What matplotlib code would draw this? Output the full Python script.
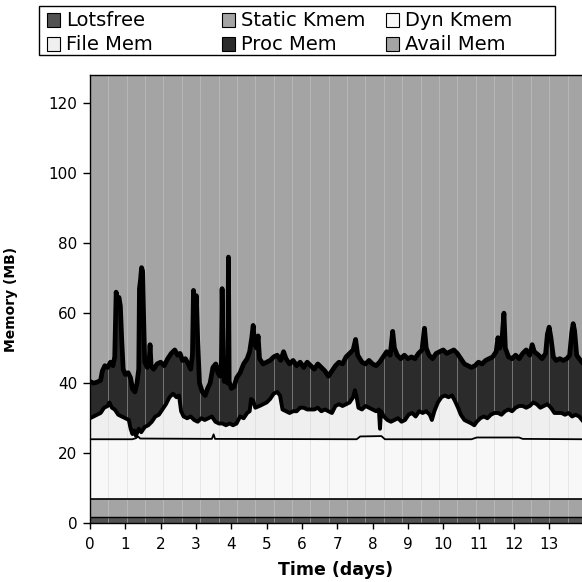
import numpy as np
import matplotlib
matplotlib.use("Agg")
import matplotlib.pyplot as plt
from matplotlib.patches import Rectangle

plt.rcParams['font.family'] = ['DejaVu Sans']

# cumulative tops of each layer (MB)
t_end = 13.93
lotsfree_top = [1.7, 1.7]
static_top = [6.9, 6.9]
t_const = [0.0, t_end]

t_dyn = [0.00, 1.20, 1.30, 1.36, 1.42, 3.45, 3.50, 3.54, 7.55, 7.65, 8.25, 8.35,
         10.80, 10.95, 12.15, 12.25, 13.93]
dyn_top = [24.0, 24.0, 24.3, 24.8, 24.2, 24.1, 25.4, 24.1, 24.0, 24.8, 24.9, 24.0,
           24.0, 24.5, 24.5, 24.1, 24.0]

t_file = [0.00, 0.10, 0.20, 0.30, 0.40, 0.50, 0.55, 0.62, 0.70, 0.80, 0.90, 1.00,
          1.10, 1.15, 1.20, 1.25, 1.30, 1.38, 1.45, 1.55, 1.65, 1.75, 1.85, 1.95,
          2.05, 2.15, 2.25, 2.35, 2.45, 2.52, 2.58, 2.65, 2.75, 2.85, 2.95, 3.05,
          3.15, 3.25, 3.35, 3.45, 3.55, 3.65, 3.75, 3.85, 3.95, 4.05, 4.15, 4.25,
          4.35, 4.45, 4.52, 4.56, 4.62, 4.68, 4.80, 4.90, 5.00, 5.10, 5.20, 5.30,
          5.38, 5.45, 5.55, 5.65, 5.75, 5.85, 5.95, 6.05, 6.15, 6.25, 6.35, 6.45,
          6.55, 6.65, 6.75, 6.85, 6.95, 7.05, 7.15, 7.25, 7.35, 7.45, 7.50, 7.55,
          7.60, 7.70, 7.80, 7.90, 8.00, 8.10, 8.18, 8.21, 8.24, 8.32, 8.42, 8.52,
          8.62, 8.72, 8.82, 8.92, 9.02, 9.12, 9.22, 9.32, 9.42, 9.52, 9.62, 9.68,
          9.75, 9.85, 9.95, 10.05, 10.15, 10.25, 10.33, 10.42, 10.50, 10.60, 10.70, 10.80,
          10.88, 10.95, 11.05, 11.15, 11.25, 11.35, 11.45, 11.55, 11.65, 11.75, 11.85, 11.95,
          12.05, 12.15, 12.25, 12.35, 12.45, 12.55, 12.65, 12.75, 12.85, 12.95, 13.05, 13.15,
          13.25, 13.35, 13.45, 13.55, 13.65, 13.75, 13.85, 13.93]
file_top = [30.0, 30.5, 31.0, 31.5, 33.0, 33.5, 34.5, 33.0, 32.5, 31.0, 30.5, 30.0,
            29.5, 27.0, 25.5, 26.5, 25.0, 27.0, 26.0, 27.5, 28.0, 29.0, 30.5, 31.0,
            32.5, 34.0, 36.0, 37.0, 36.0, 36.5, 32.0, 30.5, 30.0, 30.5, 29.5, 29.0,
            30.0, 29.5, 30.0, 30.5, 29.0, 28.5, 28.5, 28.0, 28.5, 28.0, 28.5, 30.5,
            30.0, 31.5, 32.0, 35.5, 35.0, 33.0, 33.5, 34.0, 34.5, 35.5, 37.0, 37.5,
            36.5, 32.5, 32.0, 31.5, 32.0, 32.0, 33.0, 33.0, 32.5, 32.5, 32.5, 33.0,
            32.0, 32.5, 32.0, 31.5, 33.5, 34.0, 33.5, 34.0, 34.5, 36.0, 38.0, 36.0,
            33.0, 32.5, 33.5, 33.0, 32.5, 32.0, 32.5, 27.0, 32.0, 30.5, 29.5, 29.0,
            29.5, 30.0, 29.0, 29.5, 31.0, 31.5, 30.5, 32.0, 31.5, 32.0, 31.0, 29.5,
            32.0, 34.5, 36.0, 36.5, 36.0, 36.5, 35.0, 33.0, 31.0, 29.5, 29.0, 28.5,
            28.0, 29.0, 30.0, 30.5, 30.0, 31.0, 31.5, 31.5, 31.0, 32.0, 32.5, 32.0,
            33.0, 33.5, 33.5, 33.0, 33.5, 34.5, 34.0, 33.0, 33.5, 34.0, 33.0, 31.5,
            31.5, 31.5, 31.0, 31.5, 30.5, 31.0, 30.5, 29.5]

t_proc = [0.00, 0.10, 0.20, 0.30, 0.35, 0.42, 0.50, 0.58, 0.65, 0.70, 0.74, 0.78,
          0.82, 0.86, 0.90, 0.94, 1.00, 1.08, 1.15, 1.20, 1.27, 1.33, 1.38, 1.40,
          1.43, 1.46, 1.49, 1.52, 1.55, 1.62, 1.67, 1.70, 1.73, 1.80, 1.90, 2.00,
          2.10, 2.20, 2.30, 2.40, 2.48, 2.55, 2.62, 2.70, 2.78, 2.85, 2.90, 2.93,
          2.97, 3.01, 3.05, 3.10, 3.18, 3.26, 3.33, 3.40, 3.48, 3.56, 3.62, 3.68,
          3.72, 3.74, 3.77, 3.80, 3.86, 3.90, 3.92, 3.94, 4.00, 4.08, 4.15, 4.25,
          4.35, 4.45, 4.52, 4.58, 4.62, 4.66, 4.72, 4.76, 4.80, 4.90, 5.00, 5.10,
          5.20, 5.30, 5.40, 5.48, 5.55, 5.65, 5.75, 5.85, 5.95, 6.05, 6.15, 6.25,
          6.35, 6.45, 6.55, 6.65, 6.75, 6.85, 6.95, 7.05, 7.15, 7.25, 7.35, 7.45,
          7.52, 7.58, 7.70, 7.80, 7.90, 8.00, 8.10, 8.20, 8.30, 8.40, 8.50, 8.57,
          8.62, 8.70, 8.80, 8.90, 9.00, 9.10, 9.20, 9.30, 9.40, 9.47, 9.52, 9.60,
          9.70, 9.80, 9.90, 10.00, 10.10, 10.20, 10.30, 10.40, 10.50, 10.60, 10.70, 10.80,
          10.90, 11.00, 11.10, 11.20, 11.30, 11.40, 11.50, 11.55, 11.60, 11.66, 11.72, 11.76,
          11.85, 11.95, 12.05, 12.15, 12.25, 12.35, 12.45, 12.52, 12.58, 12.70, 12.80, 12.90,
          12.95, 13.00, 13.05, 13.12, 13.20, 13.30, 13.40, 13.50, 13.58, 13.64, 13.68, 13.72,
          13.78, 13.85, 13.93]
proc_top = [40.5, 40.0, 40.3, 40.8, 43.5, 45.0, 44.5, 46.0, 45.0, 47.5, 66.0, 63.0,
            64.5, 62.0, 52.0, 44.0, 42.5, 43.0, 41.5, 38.5, 37.5, 40.0, 44.0, 67.0,
            69.5, 73.0, 72.0, 58.0, 46.0, 44.5, 45.5, 51.0, 45.0, 44.0, 45.5, 46.0,
            45.0, 47.0, 48.5, 49.5, 48.0, 48.5, 46.5, 47.0, 45.5, 44.0, 48.0, 66.5,
            60.0, 65.0, 52.0, 40.0, 37.5, 36.5, 38.5, 40.0, 44.5, 45.5, 43.0, 42.0,
            46.0, 67.0, 47.0, 40.5, 41.0, 40.0, 76.0, 40.5, 38.5, 39.0, 41.5, 43.0,
            45.5, 47.0, 49.0, 53.0, 56.5, 51.0, 50.0, 53.5, 47.0, 45.5, 46.0, 46.5,
            47.5, 48.0, 46.5, 49.0, 47.0, 45.5, 46.5, 45.0, 46.0, 44.5, 46.0, 45.0,
            44.0, 45.5, 44.5, 43.5, 42.0, 43.5, 45.0, 46.0, 45.5, 47.5, 48.5, 49.5,
            52.5, 48.0, 46.0, 45.5, 46.5, 45.5, 45.0, 46.0, 47.5, 49.0, 48.0, 54.8,
            50.0, 48.0, 47.0, 48.0, 47.0, 47.5, 47.0, 48.5, 49.5, 55.7, 50.0, 48.0,
            47.0, 48.5, 49.0, 49.5, 48.5, 49.0, 49.5, 48.5, 47.0, 45.5, 45.0, 44.5,
            45.0, 46.0, 45.5, 46.5, 47.0, 47.5, 49.0, 53.0, 50.0, 52.0, 60.0, 50.0,
            47.5, 47.0, 48.0, 47.0, 48.5, 49.5, 48.0, 51.0, 49.0, 48.0, 47.0, 48.5,
            54.0, 56.0, 53.0, 47.5, 46.5, 47.0, 46.5, 47.0, 48.0, 54.5, 57.0, 55.0,
            48.0, 47.0, 46.0]

total_mem = 128
labels = ["Lotsfree", "Static Kmem", "Dyn Kmem", "File Mem", "Proc Mem", "Avail Mem"]
colors = ["#525252", "#a4a4a4", "#f8f8f8", "#efefef", "#2b2b2b", "#a4a4a4"]

W = 582.0
fig = plt.figure(figsize=(5.82, 5.82), dpi=100)
ax = fig.add_axes([90 / W, 1 - 523.3 / W, 1 - 90 / W, (523.3 - 75) / W])

# paint cumulative layers from the top down
ax.fill_between(t_const, 0, [total_mem, total_mem], color=colors[5], lw=0, zorder=1)
ax.fill_between(t_proc, 0, proc_top, color=colors[4], lw=0, zorder=1)
ax.fill_between(t_file, 0, file_top, color=colors[3], lw=0, zorder=1)
ax.fill_between(t_dyn, 0, dyn_top, color=colors[2], lw=0, zorder=1)
ax.fill_between(t_const, 0, static_top, color=colors[1], lw=0, zorder=1)
ax.fill_between(t_const, 0, lotsfree_top, color=colors[0], lw=0, zorder=1)

for gx in np.arange(0.52, t_end, 0.52):
    ax.axvline(gx, color="#d0d0d0", alpha=0.45, lw=0.7, zorder=2)

ax.plot(t_proc, proc_top, color="black", lw=3.4, zorder=3)
ax.plot(t_file, file_top, color="black", lw=2.8, zorder=3)
ax.plot(t_dyn, dyn_top, color="black", lw=1.3, zorder=3)
ax.plot(t_const, static_top, color="black", lw=1.2, zorder=3)
ax.plot(t_const, lotsfree_top, color="black", lw=1.0, zorder=3)

ax.set_xlim(0, t_end)
ax.set_ylim(0, total_mem)
ax.set_xticks(range(0, 14))
ax.set_yticks(range(0, 121, 20))
ax.tick_params(axis="both", labelsize=11, width=1, color="black")
ax.tick_params(axis="y", length=5, pad=4)
ax.tick_params(axis="x", length=4, pad=6)
ax.spines["right"].set_visible(False)
for s in ["left", "top", "bottom"]:
    ax.spines[s].set_linewidth(1.0)
ax.set_xlabel("Time (days)", fontsize=12.5, fontweight="bold", labelpad=6)
ax.set_ylabel("Memory (MB)", fontsize=10, fontweight="bold")
ax.yaxis.set_label_coords(-72 / (W - 90), 0.5)

# legend box drawn in figure pixels (3 columns x 2 rows)
def fx(px):
    return px / W

def fy(py):
    return 1 - py / W

fig.add_artist(Rectangle((fx(39.3), fy(55)), fx(555) - fx(39.3), fy(5.7) - fy(55),
                         transform=fig.transFigure, facecolor="white",
                         edgecolor="black", lw=1.0))
col_x = [47, 222, 386]
row_y = [20, 44]
sq = 13
for i, (lab, c) in enumerate(zip(labels, colors)):
    r, k = divmod(i, 3)
    x0, yc = col_x[k], row_y[r]
    fig.add_artist(Rectangle((fx(x0), fy(yc + sq / 2)), sq / W, sq / W,
                             transform=fig.transFigure, facecolor=c,
                             edgecolor="black", lw=0.8))
    fig.text(fx(x0 + 19), fy(yc), lab, fontsize=14, va="center", ha="left")

fig.savefig("out.png", dpi=100)
